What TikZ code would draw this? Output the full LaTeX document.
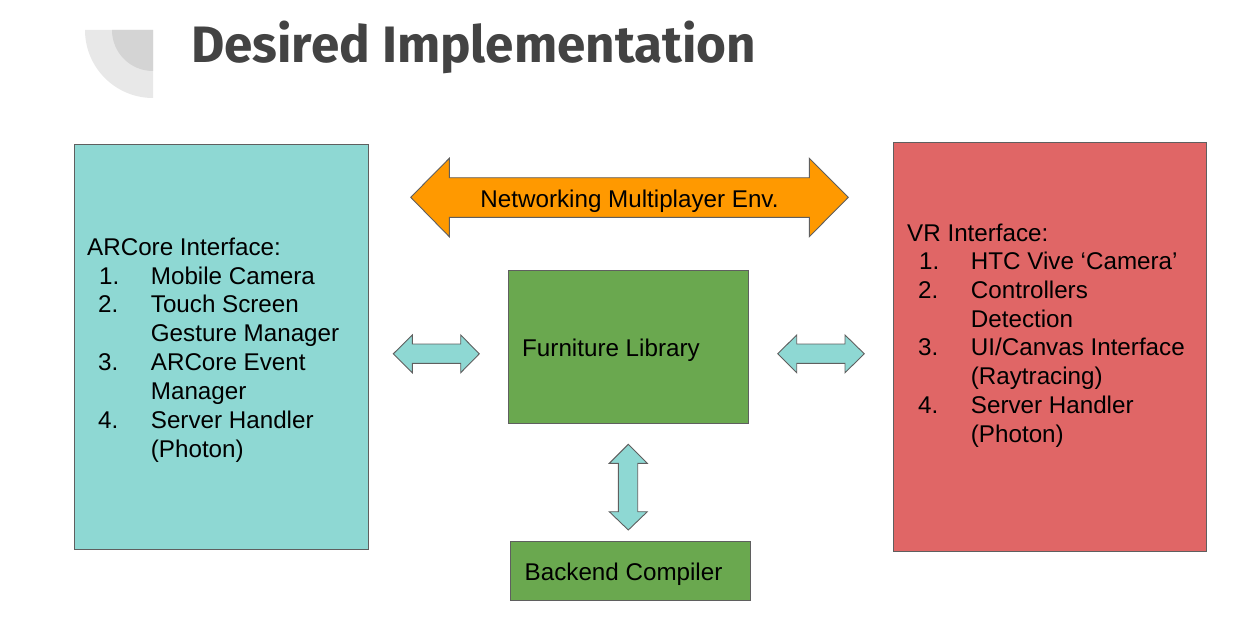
\documentclass[tikz,border=0pt]{standalone}
\usepackage{fontspec}
\setmainfont{Liberation Sans}
\newfontfamily\titlefont{Fira Sans}
\definecolor{cTeal}{HTML}{8ED8D3}
\definecolor{cRed}{HTML}{E06666}
\definecolor{cGreen}{HTML}{6AA84F}
\definecolor{cOrange}{HTML}{FF9900}
\definecolor{cBorder}{HTML}{5F5F5F}
\definecolor{cTitle}{HTML}{434343}
\definecolor{cLogoA}{HTML}{E8E8E8}
\definecolor{cLogoB}{HTML}{D4D4D4}
\begin{document}
\begin{tikzpicture}[x=1pt,y=-1pt,
  box/.style={draw=cBorder, line width=0.9pt, inner sep=0pt, outer sep=0pt},
  txt/.style={anchor=base west, inner sep=0pt, font=\fontsize{24.2}{29}\selectfont},
  blockarrow/.style={draw=cBorder, line width=0.9pt, line join=miter}]
\useasboundingbox (0,0) rectangle (1255,626);
% logo
\fill[cLogoA] (153,30) -- (85,30) arc[start angle=180, end angle=90, radius=68] -- cycle;
\fill[cLogoB] (153,30) -- (112,30) arc[start angle=180, end angle=90, radius=41] -- cycle;
% title
\node[anchor=base west, inner sep=0pt, text=cTitle, font=\titlefont\bfseries\fontsize{51.2}{60}\selectfont] (title) at (191,63) {Desired Implementation};
% boxes
\node[box, fill=cTeal, minimum width=294pt, minimum height=405pt] (ar) at (221,346.5) {};
\node[box, fill=cRed, minimum width=313pt, minimum height=409pt] (vr) at (1049.5,346.5) {};
\node[box, fill=cGreen, minimum width=240.3pt, minimum height=153pt] (furn) at (628.15,346.5) {};
\node[box, fill=cGreen, minimum width=240pt, minimum height=59.7pt] (back) at (630.7,570.85) {};
% orange arrow
\draw[blockarrow, fill=cOrange] (410.7,197.3) -- (449.3,158.3) -- (449.3,177.7) -- (809.3,177.7) -- (809.3,158.3) -- (848.3,197.3) -- (809.3,236.7) -- (809.3,217.3) -- (449.3,217.3) -- (449.3,236.7) -- cycle;
\node[anchor=base, inner sep=0pt, font=\fontsize{24.2}{29}\selectfont] (net) at (629.5,207.5) {Networking Multiplayer Env.};
% small arrows
\draw[blockarrow, fill=cTeal] (393.3,353.8) -- (412.3,335) -- (412.3,344) -- (460.7,344) -- (460.7,335) -- (479.3,353.8) -- (460.7,372.7) -- (460.7,363.3) -- (412.3,363.3) -- (412.3,372.7) -- cycle;
\draw[blockarrow, fill=cTeal] (777.7,353.8) -- (796.7,335) -- (796.7,344) -- (845,344) -- (845,335) -- (864.3,353.8) -- (845,372.7) -- (845,363.3) -- (796.7,363.3) -- (796.7,372.7) -- cycle;
\draw[blockarrow, fill=cTeal] (628.3,444.3) -- (647.3,463.3) -- (637.7,463.3) -- (637.7,511.7) -- (647.3,511.7) -- (628.3,530) -- (609.3,511.7) -- (618.3,511.7) -- (618.3,463.3) -- (609.3,463.3) -- cycle;
% box texts
\node[txt] (furnt) at (522,356.3) {Furniture Library};
\node[txt] (backt) at (524.5,580.3) {Backend Compiler};
% left list
\node[txt] (a0) at (87,255) {ARCore Interface:};
\node[txt] (a1n) at (99,284) {1.};
\node[txt] (a1) at (150.7,284) {Mobile Camera};
\node[txt] (a2n) at (98,312.9) {2.};
\node[txt] (a2) at (150.7,312.9) {Touch Screen};
\node[txt] (a2b) at (150.7,341.9) {Gesture Manager};
\node[txt] (a3n) at (98,370.8) {3.};
\node[txt] (a3) at (150.7,370.8) {ARCore Event};
\node[txt] (a3b) at (150.7,399.8) {Manager};
\node[txt] (a4n) at (98,428.7) {4.};
\node[txt] (a4) at (150.7,428.7) {Server Handler};
\node[txt] (a4b) at (150.7,457.7) {(Photon)};
% right list
\node[txt] (v0) at (907,241.5) {VR Interface:};
\node[txt] (v1n) at (919,269.8) {1.};
\node[txt] (v1) at (970.7,269.8) {HTC Vive ‘Camera’};
\node[txt] (v2n) at (918,298.2) {2.};
\node[txt] (v2) at (970.7,298.2) {Controllers};
\node[txt] (v2b) at (970.7,327.2) {Detection};
\node[txt] (v3n) at (918,355.5) {3.};
\node[txt] (v3) at (970.7,355.5) {UI/Canvas Interface};
\node[txt] (v3b) at (970.7,384.5) {(Raytracing)};
\node[txt] (v4n) at (918,413.5) {4.};
\node[txt] (v4) at (970.7,413.5) {Server Handler};
\node[txt] (v4b) at (970.7,442.2) {(Photon)};
\end{tikzpicture}
\end{document}
